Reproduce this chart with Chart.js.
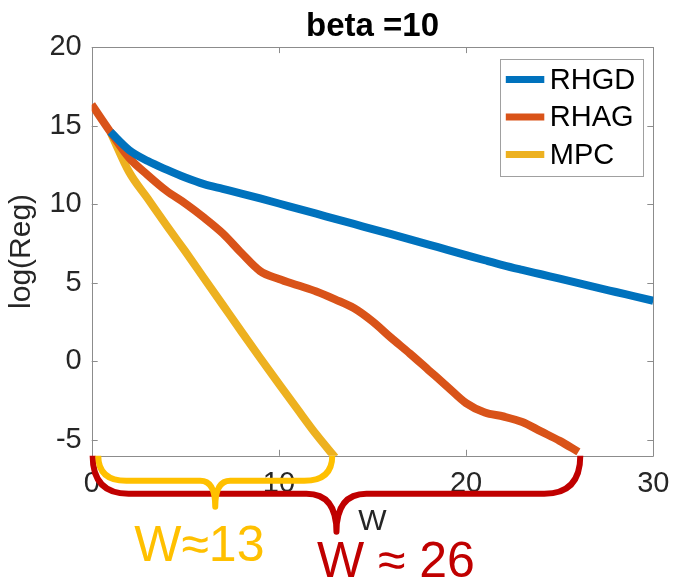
<!DOCTYPE html>
<html>
<head>
<meta charset="utf-8">
<script src="https://cdn.jsdelivr.net/npm/chart.js@4.4.1/dist/chart.umd.min.js"></script>
<style>
  body { margin: 0; background: #fff; }
  canvas { display: block; }
</style>
</head>
<body>
<canvas id="regChart" width="674" height="579"></canvas>
<script>
// Data
const wRHGD = [1, 2, 3, 4, 5, 6, 7, 8, 9, 10, 11, 12, 13, 14, 15, 16, 17, 18, 19, 20, 21, 22, 23, 24, 25, 26, 27, 28, 29, 30];
const regRHGD = [14.6, 13.45, 12.75, 12.2, 11.7, 11.28, 10.98, 10.68, 10.37, 10.05, 9.72, 9.4, 9.07, 8.75, 8.42,
                 8.1, 7.77, 7.44, 7.1, 6.77, 6.44, 6.12, 5.83, 5.55, 5.27, 4.99, 4.7, 4.42, 4.14, 3.86];

const wRHAG = [0, 1, 2, 3, 4, 5, 6, 7, 8, 9, 10, 11, 12, 13, 14, 15, 16, 17, 18, 19, 20, 21, 22, 23, 24, 25, 26];
const regRHAG = [16.35, 14.6, 12.95, 11.85, 10.85, 10.05, 9.15, 8.15, 6.9, 5.75, 5.25, 4.85, 4.45, 3.95, 3.4,
                 2.55, 1.5, 0.5, -0.55, -1.6, -2.65, -3.25, -3.5, -3.85, -4.45, -5.05, -5.75];

const wMPC = [1, 2, 3, 4, 5, 6, 7, 8, 9, 10, 11, 12, 13];
const regMPC = [14.6, 12.05, 10.35, 8.65, 7.0, 5.3, 3.6, 1.9, 0.22, -1.42, -3.05, -4.65, -6.1];

const xTicks = [0, 10, 20, 30];
const yTicks = [-5, 0, 5, 10, 15, 20];

const seriesNames = ['RHGD', 'RHAG', 'MPC'];
const seriesColors = ['#0072BD', '#D95319', '#EDB120'];
const chartTitle = 'beta =10';

Chart.defaults.font.family = "'Liberation Sans', Arial, Helvetica, sans-serif";

function toPoints(xs, ys) {
    return xs.map((x, i) => ({ x: x, y: ys[i] }));
}

function crisp(v) {
    return Math.round(v) + 0.5;
}

// Box around the axes with inward ticks on all four sides, plus the title centred over the axes
const axesBox = {
    id: 'axesBox',
    beforeDatasetsDraw(chart) {
        const { ctx, chartArea: a, scales } = chart;
        const tl = 6;
        ctx.save();
        ctx.strokeStyle = '#8c8c8c';
        ctx.lineWidth = 1;
        ctx.beginPath();
        ctx.rect(crisp(a.left), crisp(a.top), Math.round(a.right) - Math.round(a.left), Math.round(a.bottom) - Math.round(a.top));
        xTicks.forEach(v => {
            const px = crisp(scales.x.getPixelForValue(v));
            ctx.moveTo(px, a.bottom); ctx.lineTo(px, a.bottom - tl);
            ctx.moveTo(px, a.top); ctx.lineTo(px, a.top + tl);
        });
        yTicks.forEach(v => {
            const py = crisp(scales.y.getPixelForValue(v));
            ctx.moveTo(a.left, py); ctx.lineTo(a.left + tl, py);
            ctx.moveTo(a.right, py); ctx.lineTo(a.right - tl, py);
        });
        ctx.stroke();

        ctx.fillStyle = '#000';
        ctx.font = "bold 33px 'Liberation Sans', Arial, sans-serif";
        ctx.textAlign = 'center';
        ctx.textBaseline = 'alphabetic';
        ctx.fillText(chartTitle, (a.left + a.right) / 2, a.top - 11);
        ctx.restore();
    }
};

// Legend inside the upper right corner, like MATLAB's
const insideLegend = {
    id: 'insideLegend',
    afterDraw(chart) {
        const { ctx, chartArea: a } = chart;
        const right = a.right - 10;
        const top = a.top + 12;
        const w = 143, h = 117;
        const left = right - w;
        ctx.save();
        ctx.fillStyle = '#fff';
        ctx.fillRect(left, top, w, h);
        ctx.strokeStyle = '#a0a0a0';
        ctx.lineWidth = 1;
        ctx.strokeRect(crisp(left), crisp(top), w, h);
        ctx.font = "29px 'Liberation Sans', Arial, sans-serif";
        ctx.textBaseline = 'middle';
        ctx.textAlign = 'left';
        chart.data.datasets.forEach((ds, i) => {
            const cy = top + 20.5 + i * 37.5;
            ctx.strokeStyle = ds.borderColor;
            ctx.lineWidth = 7;
            ctx.beginPath();
            ctx.moveTo(left + 5.5, cy);
            ctx.lineTo(left + 44, cy);
            ctx.stroke();
            ctx.fillStyle = '#000';
            ctx.fillText(ds.label, left + 49.5, cy + 1);
        });
        ctx.restore();
    }
};

// Curly braces and labels under the x axis
function drawBrace(ctx, x0, x1, yTop, yLine, yTip, r, w, color) {
    const xm = (x0 + x1) / 2;
    ctx.strokeStyle = color;
    ctx.lineWidth = 6;
    ctx.lineJoin = 'round';
    ctx.beginPath();
    ctx.moveTo(x0, yTop);
    ctx.quadraticCurveTo(x0, yLine, x0 + r, yLine);
    ctx.lineTo(xm - w, yLine);
    ctx.quadraticCurveTo(xm, yLine, xm, yTip);
    ctx.quadraticCurveTo(xm, yLine, xm + w, yLine);
    ctx.lineTo(x1 - r, yLine);
    ctx.quadraticCurveTo(x1, yLine, x1, yTop);
    ctx.stroke();
}

const braces = {
    id: 'braces',
    afterDraw(chart) {
        const { ctx, chartArea: a, scales } = chart;
        const xs = scales.x;
        const b = a.bottom;
        ctx.save();
        drawBrace(ctx, xs.getPixelForValue(0.05), xs.getPixelForValue(26.1), b, b + 38, b + 76, 36, 30, '#C00000');
        drawBrace(ctx, xs.getPixelForValue(0.35), xs.getPixelForValue(12.85), b, b + 25, b + 51, 28, 15, '#FFC000');
        ctx.textAlign = 'center';
        ctx.textBaseline = 'alphabetic';
        ctx.font = "50px 'Liberation Sans', Arial, sans-serif";
        ctx.fillStyle = '#FFC000';
        ctx.fillText('W\u224813', xs.getPixelForValue(5.75), b + 105);
        ctx.fillStyle = '#C00000';
        ctx.fillText('W \u2248 26', xs.getPixelForValue(16.25), b + 121);
        ctx.restore();
    }
};

const lineStyle = {
    borderWidth: 8,
    pointRadius: 0,
    cubicInterpolationMode: 'monotone',
    fill: false
};

const ctx = document.getElementById('regChart').getContext('2d');
const regChart = new Chart(ctx, {
    type: 'line',
    data: {
        datasets: [{
            ...lineStyle,
            label: seriesNames[0],
            data: toPoints(wRHGD, regRHGD),
            borderColor: seriesColors[0]
        }, {
            ...lineStyle,
            label: seriesNames[1],
            data: toPoints(wRHAG, regRHAG),
            borderColor: seriesColors[1]
        }, {
            ...lineStyle,
            label: seriesNames[2],
            data: toPoints(wMPC, regMPC),
            borderColor: seriesColors[2]
        }]
    },
    options: {
        responsive: false,
        animation: false,
        events: [],
        layout: {
            padding: { left: 0, right: 20.7, top: 47.1, bottom: 0 }
        },
        elements: {
            line: { borderJoinStyle: 'round', borderCapStyle: 'butt' }
        },
        plugins: {
            legend: { display: false },
            tooltip: { enabled: false },
            title: { display: false }
        },
        scales: {
            x: {
                type: 'linear',
                min: 0,
                max: 30,
                afterBuildTicks: scale => { scale.ticks = xTicks.map(v => ({ value: v })); },
                afterFit: scale => { scale.height = 123.2; },
                grid: { display: false, drawTicks: false },
                border: { display: false },
                ticks: {
                    color: '#262626',
                    font: { size: 29, lineHeight: 1.8 },
                    padding: 2,
                    maxRotation: 0,
                    autoSkip: false
                },
                title: {
                    display: true,
                    text: 'W',
                    color: '#262626',
                    font: { size: 30 },
                    padding: { top: 0, bottom: 39 }
                }
            },
            y: {
                type: 'linear',
                min: -6,
                max: 20,
                afterBuildTicks: scale => { scale.ticks = yTicks.map(v => ({ value: v })); },
                afterFit: scale => { scale.width = 91.7; },
                grid: { display: false, drawTicks: false },
                border: { display: false },
                ticks: {
                    color: '#262626',
                    font: { size: 29 },
                    padding: 10
                },
                title: {
                    display: true,
                    text: 'log(Reg)',
                    color: '#262626',
                    font: { size: 30 },
                    padding: { top: 4, bottom: 0 }
                }
            }
        }
    },
    plugins: [axesBox, insideLegend, braces]
});
</script>
</body>
</html>
